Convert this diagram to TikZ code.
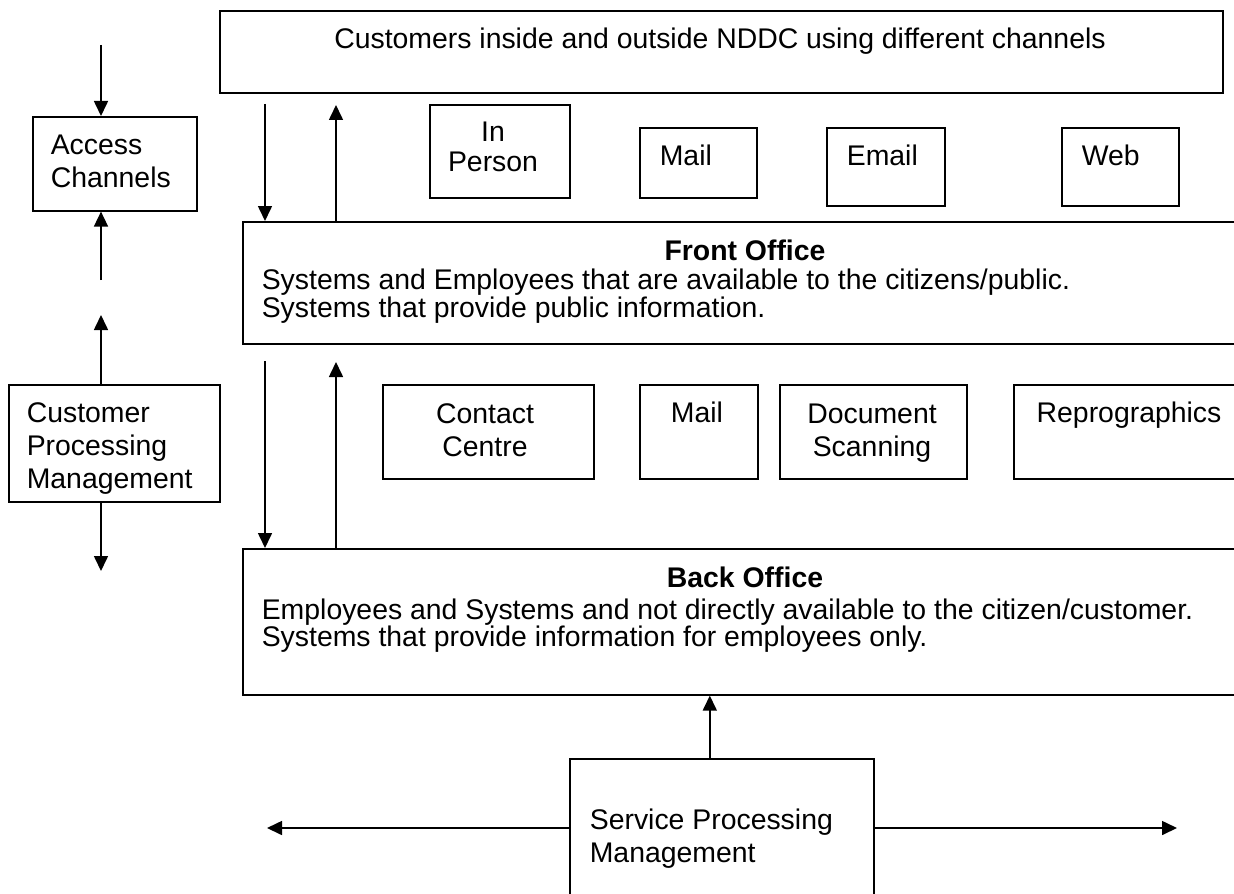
\documentclass[tikz,border=0pt]{standalone}
\usepackage{fontspec}
\setmainfont{Liberation Sans}
\usetikzlibrary{arrows.meta,positioning,calc}
\tikzstyle{box} = [draw, rectangle, anchor=north west, inner sep=0pt, line width=0.8pt]
\tikzstyle{txt} = [inner sep=0pt, font=\fontsize{14.2}{16.5}\selectfont]
\tikzstyle{head} = [inner sep=0pt, anchor=base, font=\fontsize{14.2}{16.5}\selectfont\bfseries]
\tikzstyle{body} = [inner sep=0pt, anchor=base west, align=left, font=\fontsize{14.2}{13}\selectfont]

\begin{document}
\begin{tikzpicture}[x=0.5pt, y=-0.5pt, >={Triangle[length=7.5pt,width=7pt]}, line width=0.8pt]
  \fill [white] (0,0) rectangle (1234,893);
  \clip (0,0) rectangle (1234,893);

  % customers
  \node [box, minimum width=501.5pt, minimum height=41pt] (cust) at (219,10) {};
  \node [txt, anchor=base] (cust-t) at (720,48.5) {Customers inside and outside NDDC using different channels};

  % left column (base = last line)
  \node [box, minimum width=82pt, minimum height=47pt] (acc) at (32,116) {};
  \node [txt, anchor=base west, align=left] (acc-t) at (50,187) {Access\\Channels};
  \node [box, minimum width=105.5pt, minimum height=58.5pt] (cpm) at (8,384) {};
  \node [txt, anchor=base west, align=left] (cpm-t) at (26,488) {Customer\\Processing\\Management};

  % channels
  \node [box, minimum width=70pt, minimum height=46.5pt] (inper) at (429,104) {};
  \node [txt, anchor=base, align=center, font=\fontsize{14.2}{15.3}\selectfont] (inper-t) at (493,172) {In\\Person};
  \node [box, minimum width=58.5pt, minimum height=35pt] (mail1) at (639,127) {};
  \node [txt, anchor=base west] (mail1-t) at (659,166) {Mail};
  \node [box, minimum width=59pt, minimum height=39pt] (email) at (826,127) {};
  \node [txt, anchor=base west] (email-t) at (846,166) {Email};
  \node [box, minimum width=58.5pt, minimum height=39pt] (web) at (1061,127) {};
  \node [txt, anchor=base west] (web-t) at (1081,166) {Web};

  % front office
  \node [box, minimum width=520pt, minimum height=61pt] (front) at (242,221) {};
  \node [head] (front-h) at (745,260) {Front Office};
  \node [body] (front-t) at (261,317.5) {Systems and Employees that are available to the citizens/public.\\Systems that provide public information.};

  % units
  \node [box, minimum width=105.5pt, minimum height=47pt] (contact) at (382,384) {};
  \node [txt, anchor=base, align=center] (contact-t) at (485,456) {Contact\\Centre};
  \node [box, minimum width=59pt, minimum height=47pt] (mail2) at (639,384) {};
  \node [txt, anchor=base] (mail2-t) at (697,422) {Mail};
  \node [box, minimum width=93.5pt, minimum height=47pt] (scan) at (779,384) {};
  \node [txt, anchor=base, align=center] (scan-t) at (872,456) {Document\\Scanning};
  \node [box, minimum width=116pt, minimum height=47pt] (repro) at (1013,384) {};
  \node [txt, anchor=base] (repro-t) at (1129,422) {Reprographics};

  % back office
  \node [box, minimum width=520pt, minimum height=73pt] (back) at (242,548) {};
  \node [head] (back-h) at (745,587) {Back Office};
  \node [body, font=\fontsize{14.2}{13.5}\selectfont] (back-t) at (261,646) {Employees and Systems and not directly available to the citizen/customer.\\Systems that provide information for employees only.};

  % service processing
  \node [box, minimum width=152pt, minimum height=80pt] (serv) at (569,758) {};
  \node [txt, anchor=base west, align=left] (serv-t) at (589,862) {Service Processing\\Management};

  % arrow ends
  \coordinate (accin) at (101,45);
  \coordinate (accup) at (101,280);
  \coordinate (cpmup) at (101,315);
  \coordinate (cpmdn) at (101,571);
  \coordinate (dn1) at (265,104);
  \coordinate (up1) at (336,105);
  \coordinate (dn2) at (265,361);
  \coordinate (up2) at (336,362);
  \coordinate (sl) at (267,828);
  \coordinate (sr) at (1177,828);

  \draw [->] (accin) -- (accin |- acc.north);
  \draw [->] (accup) -- (accup |- acc.south);
  \draw [->] (cpmup |- cpm.north) -- (cpmup);
  \draw [->] (cpmdn |- cpm.south) -- (cpmdn);
  \draw [->] (dn1) -- (dn1 |- front.north);
  \draw [->] (up1 |- front.north) -- (up1);
  \draw [->] (dn2) -- (dn2 |- back.north);
  \draw [->] (up2 |- back.north) -- (up2);
  \draw [->] ([xshift=-6pt]serv.north) -- ([xshift=-6pt]serv.north |- back.south);
  \draw [->] (serv.west |- sl) -- (sl);
  \draw [->] (serv.east |- sr) -- (sr);
\end{tikzpicture}
\end{document}
